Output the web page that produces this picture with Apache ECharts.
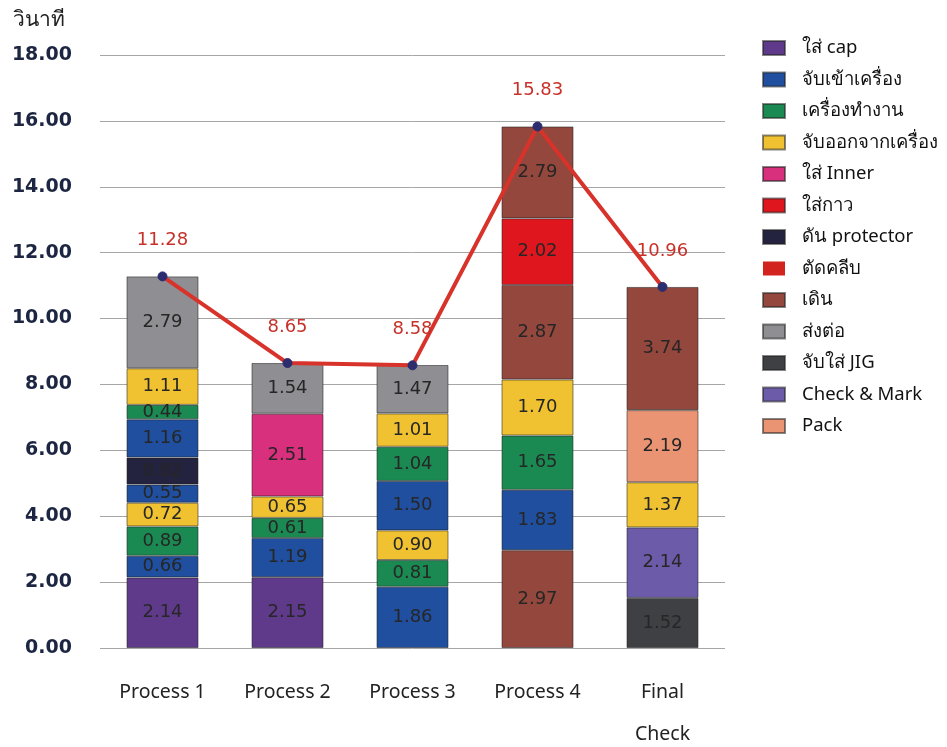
<!DOCTYPE html>
<html>
<head>
<meta charset="utf-8">
<script src="https://cdn.jsdelivr.net/npm/echarts@6/dist/echarts.min.js"></script>
<style>
  html, body { margin: 0; padding: 0; background: #ffffff; }
  #chart { width: 947px; height: 747px; }
</style>
</head>
<body>
<div id="chart"></div>
<script>
// Categories along the x axis
const categories = ['Process 1', 'Process 2', 'Process 3', 'Process 4', 'Final\nCheck'];

// Work steps shown in the legend
const stepNames = ['ใส่ cap', 'จับเข้าเครื่อง', 'เครื่องทำงาน', 'จับออกจากเครื่อง', 'ใส่ Inner', 'ใส่กาว',
  'ดัน protector', 'ตัดคลีบ', 'เดิน', 'ส่งต่อ', 'จับใส่ JIG', 'Check & Mark', 'Pack'];

// Segments of each bar, listed from bottom to top (seconds)
const process1Steps = ['ใส่ cap', 'จับเข้าเครื่อง', 'เครื่องทำงาน', 'จับออกจากเครื่อง', 'จับเข้าเครื่อง',
  'ดัน protector', 'จับเข้าเครื่อง', 'เครื่องทำงาน', 'จับออกจากเครื่อง', 'ส่งต่อ'];
const process1Times = [2.14, 0.66, 0.89, 0.72, 0.55, 0.82, 1.16, 0.44, 1.11, 2.79];

const process2Steps = ['ใส่ cap', 'จับเข้าเครื่อง', 'เครื่องทำงาน', 'จับออกจากเครื่อง', 'ใส่ Inner', 'ส่งต่อ'];
const process2Times = [2.15, 1.19, 0.61, 0.65, 2.51, 1.54];

const process3Steps = ['จับเข้าเครื่อง', 'เครื่องทำงาน', 'จับออกจากเครื่อง', 'จับเข้าเครื่อง',
  'เครื่องทำงาน', 'จับออกจากเครื่อง', 'ส่งต่อ'];
const process3Times = [1.86, 0.81, 0.90, 1.50, 1.04, 1.01, 1.47];

const process4Steps = ['เดิน', 'จับเข้าเครื่อง', 'เครื่องทำงาน', 'จับออกจากเครื่อง', 'เดิน', 'ใส่กาว', 'เดิน'];
const process4Times = [2.97, 1.83, 1.65, 1.70, 2.87, 2.02, 2.79];

const finalCheckSteps = ['จับใส่ JIG', 'Check & Mark', 'จับออกจากเครื่อง', 'Pack', 'เดิน'];
const finalCheckTimes = [1.52, 2.14, 1.37, 2.19, 3.74];

// Total time per process (line)
const totals = [11.28, 8.65, 8.58, 15.83, 10.96];

// Colour of each step
const stepColors = {
  'ใส่ cap': '#5f3a8a',
  'จับเข้าเครื่อง': '#1f4f9e',
  'เครื่องทำงาน': '#1b8a52',
  'จับออกจากเครื่อง': '#f0c232',
  'ใส่ Inner': '#d8307c',
  'ใส่กาว': '#e0161e',
  'ดัน protector': '#23223f',
  'ตัดคลีบ': '#d3231f',
  'เดิน': '#93473d',
  'ส่งต่อ': '#8e8e93',
  'จับใส่ JIG': '#3e4043',
  'Check & Mark': '#6c5ba8',
  'Pack': '#eb9474'
};

const FONT = '"Noto Sans", "DejaVu Sans", sans-serif';
const NUM_FONT = '"DejaVu Sans", sans-serif';

const stacks = [
  [process1Steps, process1Times],
  [process2Steps, process2Times],
  [process3Steps, process3Times],
  [process4Steps, process4Times],
  [finalCheckSteps, finalCheckTimes]
];

const series = [];
stacks.forEach(([steps, times], ci) => {
  steps.forEach((step, k) => {
    series.push({
      name: step,
      type: 'bar',
      stack: 'time',
      barWidth: 72,
      data: categories.map((_, j) => (j === ci ? times[k] : null)),
      itemStyle: {
        color: stepColors[step],
        borderColor: 'rgba(35,35,35,0.55)',
        borderWidth: 1
      },
      label: {
        show: true,
        position: 'inside',
        formatter: p => Number(p.value).toFixed(2),
        fontFamily: NUM_FONT,
        fontSize: 18,
        color: '#262626'
      },
      emphasis: { disabled: true }
    });
  });
});

// Steps listed in the legend that do not appear in any bar
stepNames.forEach(step => {
  if (!series.some(s => s.name === step)) {
    series.push({
      name: step,
      type: 'bar',
      stack: 'time',
      barWidth: 72,
      data: categories.map(() => null),
      itemStyle: { color: stepColors[step] }
    });
  }
});

series.push({
  name: 'รวม',
  type: 'line',
  data: totals,
  z: 10,
  symbol: 'circle',
  symbolSize: 9,
  lineStyle: { color: '#d7332b', width: 4 },
  itemStyle: { color: '#2b2d6e', borderColor: '#2b2d6e' },
  label: {
    show: true,
    position: 'top',
    distance: 22,
    formatter: p => Number(p.value).toFixed(2),
    fontFamily: NUM_FONT,
    fontSize: 18,
    color: '#c8302a'
  },
  emphasis: { disabled: true }
});

const chart = echarts.init(document.getElementById('chart'), null, { renderer: 'canvas' });
chart.setOption({
  animation: false,
  backgroundColor: '#ffffff',
  textStyle: { fontFamily: FONT },
  title: {
    text: 'วินาที',
    left: 8,
    top: 5,
    textStyle: { fontFamily: FONT, fontSize: 21, fontWeight: 'normal', color: '#222' }
  },
  grid: { left: 100, right: 222, top: 55, bottom: 99, containLabel: false, outerBoundsMode: 'none' },
  legend: {
    data: stepNames,
    orient: 'vertical',
    left: 757,
    top: 33,
    icon: 'rect',
    itemWidth: 22,
    itemHeight: 14,
    itemGap: 11.5,
    textStyle: { fontFamily: FONT, fontSize: 18.5, color: '#111', lineHeight: 20, padding: [0, 0, 0, 12] }
  },
  xAxis: {
    type: 'category',
    data: categories,
    axisLine: { show: false },
    axisTick: { show: false },
    axisLabel: {
      margin: 23,
      fontFamily: FONT,
      fontSize: 19.5,
      lineHeight: 42,
      color: '#222'
    }
  },
  yAxis: {
    type: 'value',
    min: 0,
    max: 18,
    interval: 2,
    axisLine: { show: false },
    axisTick: { show: false },
    axisLabel: {
      margin: 28,
      formatter: v => v.toFixed(2),
      fontFamily: NUM_FONT,
      fontSize: 19,
      fontWeight: 'bold',
      color: '#1c2541'
    },
    splitLine: { lineStyle: { color: '#a6a6a6', width: 1 } }
  },
  series: series
});
</script>
</body>
</html>
